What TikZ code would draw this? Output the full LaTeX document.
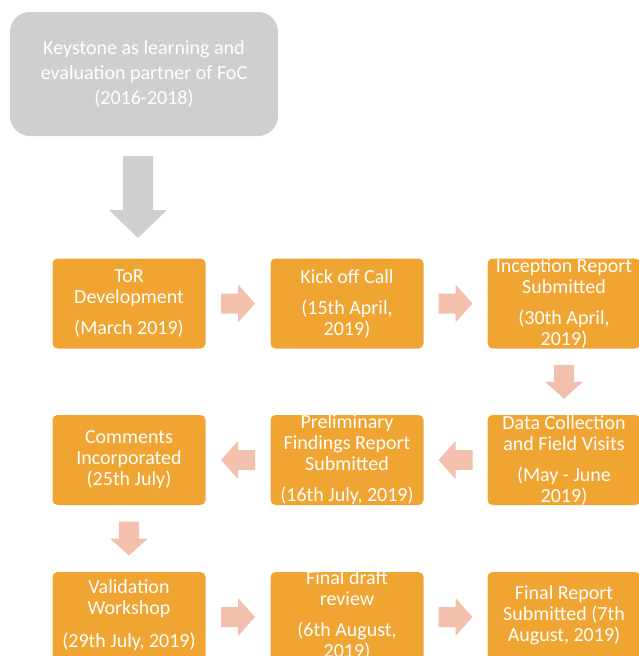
\documentclass[tikz,border=0pt]{standalone}
\usepackage{fontspec}
\setmainfont{Carlito}
\usetikzlibrary{calc}

\definecolor{stageorange}{RGB}{240,164,50}
\definecolor{arrowpink}{RGB}{244,192,174}
\definecolor{startgray}{RGB}{208,206,206}

\tikzset{
  stagebox/.style={fill=stageorange, draw=none, rounded corners=5pt,
    minimum width=153pt, minimum height=90pt, inner sep=0pt, outer sep=0pt},
  stagetext/.style={text=white, align=center, inner sep=0pt,
    font=\fontsize{20}{21}\selectfont},
  startbox/.style={fill=startgray, draw=none, rounded corners=20pt,
    minimum width=268pt, minimum height=124pt, inner sep=0pt, outer sep=0pt,
    text=white, align=center, font=\fontsize{20}{25}\selectfont},
}

% stage box with its text clipped to the box outline
\newcommand\stage[5][0]{%
  \node[stagebox] (#2) at (#3,#4) {};
  \begin{scope}
    \clip[rounded corners=5pt] (#2.south west) rectangle (#2.north east);
    \node[stagetext] (#2-text) at ([yshift=#1pt]#2.center) {#5};
  \end{scope}}

% block arrow: fill, centre, direction, length, shaft width, head width, head length
\newcommand\blockarrow[7]{%
  \fill[#1, shift={(#2)}, rotate=#3]
    ({-#4/2},{-#5/2}) -- ({#4/2-#7},{-#5/2}) -- ({#4/2-#7},{-#6/2})
    -- ({#4/2},0) -- ({#4/2-#7},{#6/2}) -- ({#4/2-#7},{#5/2})
    -- ({-#4/2},{#5/2}) -- cycle;}
\newcommand\pinkarrow[2]{\blockarrow{arrowpink}{#1}{#2}{34}{20}{38}{17}}

\begin{document}
\begin{tikzpicture}[x=1pt, y=-1pt]
  \useasboundingbox (0,0) rectangle (638,656);

  % starting point
  \node[startbox] (start) at (144,74)
    {Keystone as learning and\\evaluation partner of FoC\\(2016-2018)};

  % first row, left to right
  \stage{tor}{129}{303.5}{ToR\\Development\\[10pt](March 2019)}
  \stage{kick}{347}{303.5}{Kick off Call\\[10pt](15th April,\\2019)}
  \stage{incep}{564}{303.5}{Inception Report\\Submitted\\[10pt](30th April,\\2019)}

  % second row, right to left
  \stage{data}{564}{460}{Data Collection\\and Field Visits\\[10pt](May - June\\2019)}
  \stage{prelim}{347}{460}{Preliminary\\Findings Report\\Submitted\\[10pt](16th July, 2019)}
  \stage{comments}{129}{460}{Comments\\Incorporated\\(25th July)}

  % third row, left to right
  \stage[2]{valid}{129}{617}{Validation\\Workshop\\[12pt](29th July, 2019)}
  \stage[2]{draft}{347}{617}{Final draft\\review\\[10pt](6th August,\\2019)}
  \stage[2]{final}{564}{617}{Final Report\\Submitted (7th\\August, 2019)}

  % arrow positions between neighbouring boxes
  \coordinate (a0) at (138,197);
  \coordinate (a1) at ($(tor.east)!0.5!(kick.west)$);
  \coordinate (a2) at ($(kick.east)!0.5!(incep.west)$);
  \coordinate (a3) at ($(incep.south)!0.5!(data.north)$);
  \coordinate (a4) at ($(data.west)!0.5!(prelim.east)$);
  \coordinate (a5) at ($(prelim.west)!0.5!(comments.east)$);
  \coordinate (a6) at ($(comments.south)!0.5!(valid.north)$);
  \coordinate (a7) at ($(valid.east)!0.5!(draft.west)$);
  \coordinate (a8) at ($(draft.east)!0.5!(final.west)$);

  \blockarrow{startgray}{a0}{-90}{82}{30}{58}{28}
  \pinkarrow{a1}{0}
  \pinkarrow{a2}{0}
  \pinkarrow{a3}{-90}
  \pinkarrow{a4}{180}
  \pinkarrow{a5}{180}
  \pinkarrow{a6}{-90}
  \pinkarrow{a7}{0}
  \pinkarrow{a8}{0}
\end{tikzpicture}
\end{document}
